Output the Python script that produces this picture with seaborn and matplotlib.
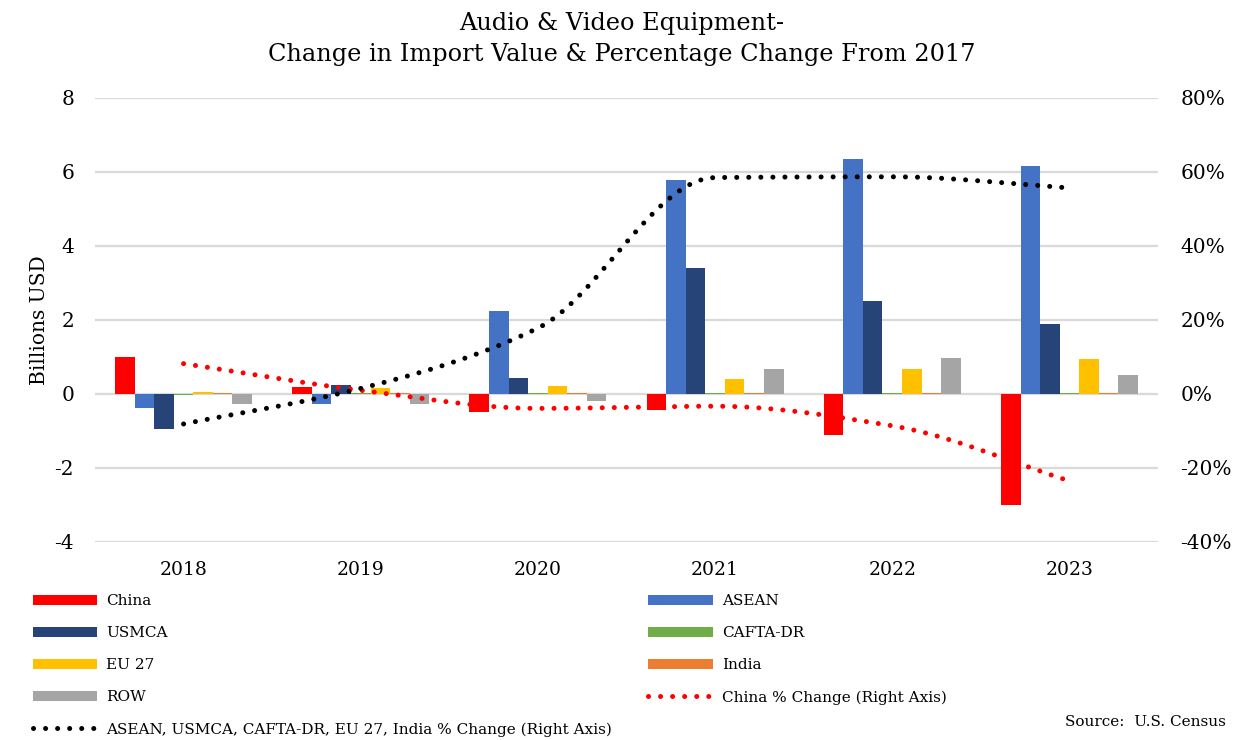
import numpy as np
import pandas as pd
import seaborn as sns
from matplotlib import pyplot as plt
from matplotlib.patches import Patch
from matplotlib.lines import Line2D

# valeurs (milliards USD)
years = ["2018", "2019", "2020", "2021", "2022", "2023"]
china = [1.01, 0.20, -0.50, -0.43, -1.12, -2.99]
asean = [-0.38, -0.27, 2.25, 5.78, 6.35, 6.17]
usmca = [-0.95, 0.25, 0.43, 3.40, 2.52, 1.89]
cafta = [-0.03, 0.02, 0.03, 0.02, 0.02, 0.02]
eu27 = [0.05, 0.17, 0.21, 0.40, 0.68, 0.94]
india = [0.03, 0.02, 0.03, 0.02, 0.02, 0.02]
row = [-0.28, -0.28, -0.20, 0.68, 0.97, 0.51]

# variations en % (axe de droite)
china_pct = [8.2, 1.0, -3.9, -3.3, -8.6, -23.5]
others_pct = [-8.1, 1.5, 17.8, 58.5, 58.7, 55.7]

regions = ["China", "ASEAN", "USMCA", "CAFTA-DR", "EU 27", "India", "ROW"]
colors = ["#FF0000", "#4472C4", "#264478", "#70AD47", "#FFC000", "#ED7D31", "#A5A5A5"]

series = [china, asean, usmca, cafta, eu27, india, row]
df = pd.DataFrame([
    {"Year": y, "Region": r, "Value": v}
    for r, vals in zip(regions, series)
    for y, v in zip(years, vals)
])


def smooth(x, y, n=30):
    # courbe lissée sans dépassement (Hermite monotone)
    x = np.asarray(x, float)
    y = np.asarray(y, float)
    h = np.diff(x)
    d = np.diff(y) / h
    m = np.zeros_like(y)
    m[0], m[-1] = d[0], d[-1]
    for i in range(1, len(y) - 1):
        if d[i - 1] * d[i] > 0:
            m[i] = 2 / (1 / d[i - 1] + 1 / d[i])
    xs, ys = [], []
    t = np.linspace(0, 1, n)
    for i in range(len(h)):
        h00 = 2 * t ** 3 - 3 * t ** 2 + 1
        h10 = t ** 3 - 2 * t ** 2 + t
        h01 = -2 * t ** 3 + 3 * t ** 2
        h11 = t ** 3 - t ** 2
        xs.extend(x[i] + t * h[i])
        ys.extend(h00 * y[i] + h10 * h[i] * m[i] + h01 * y[i + 1] + h11 * h[i] * m[i + 1])
    return np.array(xs), np.array(ys)


serif = "DejaVu Serif"
plt.rcParams["font.family"] = serif

fig = plt.figure(figsize=(12.51, 7.40), dpi=100)
ax = fig.add_axes([0.0759, 0.2676, 0.8498, 0.6])

sns.barplot(data=df, x="Year", y="Value", hue="Region", hue_order=regions,
            palette=colors, width=0.773, ax=ax, legend=False,
            linewidth=0, saturation=1)

ax.set_ylim(-4, 8)
ax.set_yticks(range(-4, 9, 2))
ax.set_yticklabels(["-4", "-2", "0", "2", "4", "6", "8"])
ax.set_xlim(-0.5, 5.5)
ax.grid(axis="y", color="#D9D9D9", linewidth=1.6)
ax.set_axisbelow(True)
ax.tick_params(axis="both", length=0, colors="#000000")
ax.tick_params(axis="y", pad=15, labelsize=14.5)
ax.tick_params(axis="x", pad=14, labelsize=13.5)
ax.set_xlabel("")
ax.set_ylabel("Billions USD", fontsize=14.5, labelpad=4)
for s in ax.spines.values():
    s.set_visible(False)

ax2 = ax.twinx()
ax2.set_ylim(-40, 80)
ax2.set_yticks(range(-40, 81, 20))
ax2.set_yticklabels(["-40%", "-20%", "0%", "20%", "40%", "60%", "80%"])
ax2.tick_params(axis="y", length=0, labelsize=14.5, pad=16)
for s in ax2.spines.values():
    s.set_visible(False)

dot = dict(linestyle=(0, (0.01, 2.4)), linewidth=3.6, dash_capstyle="round")
xpos = np.arange(len(years))
sx, sy = smooth(xpos, china_pct)
ax2.plot(sx, sy, color="#FF0000", **dot)
sx, sy = smooth(xpos, others_pct)
ax2.plot(sx, sy, color="#000000", **dot)
ax2.set_xlim(-0.5, 5.5)

fig.text(0.497, 0.984, "Audio & Video Equipment-\nChange in Import Value & Percentage Change From 2017",
         ha="center", va="top", fontsize=17.3, linespacing=1.47)

patches = {r: Patch(facecolor=c, edgecolor="none") for r, c in zip(regions, colors)}
china_line = Line2D([], [], color="#FF0000", **dot)
other_line = Line2D([], [], color="#000000", **dot)
handles = [patches["China"], patches["USMCA"], patches["EU 27"], patches["ROW"], other_line,
           patches["ASEAN"], patches["CAFTA-DR"], patches["India"], china_line]
labels = ["China", "USMCA", "EU 27", "ROW",
          "ASEAN, USMCA, CAFTA-DR, EU 27, India % Change (Right Axis)",
          "ASEAN", "CAFTA-DR", "India", "China % Change (Right Axis)"]
fig.legend(handles, labels, ncol=2, loc="upper left", bbox_to_anchor=(0.026, 0.197),
           frameon=False, fontsize=11, handlelength=4.2, handleheight=0.7,
           handletextpad=0.6, labelspacing=1.18, columnspacing=2.4,
           borderpad=0, borderaxespad=0)

fig.text(0.98, 0.025, "Source:  U.S. Census", ha="right", va="center", fontsize=11)

fig.savefig("out.png", dpi=100)
